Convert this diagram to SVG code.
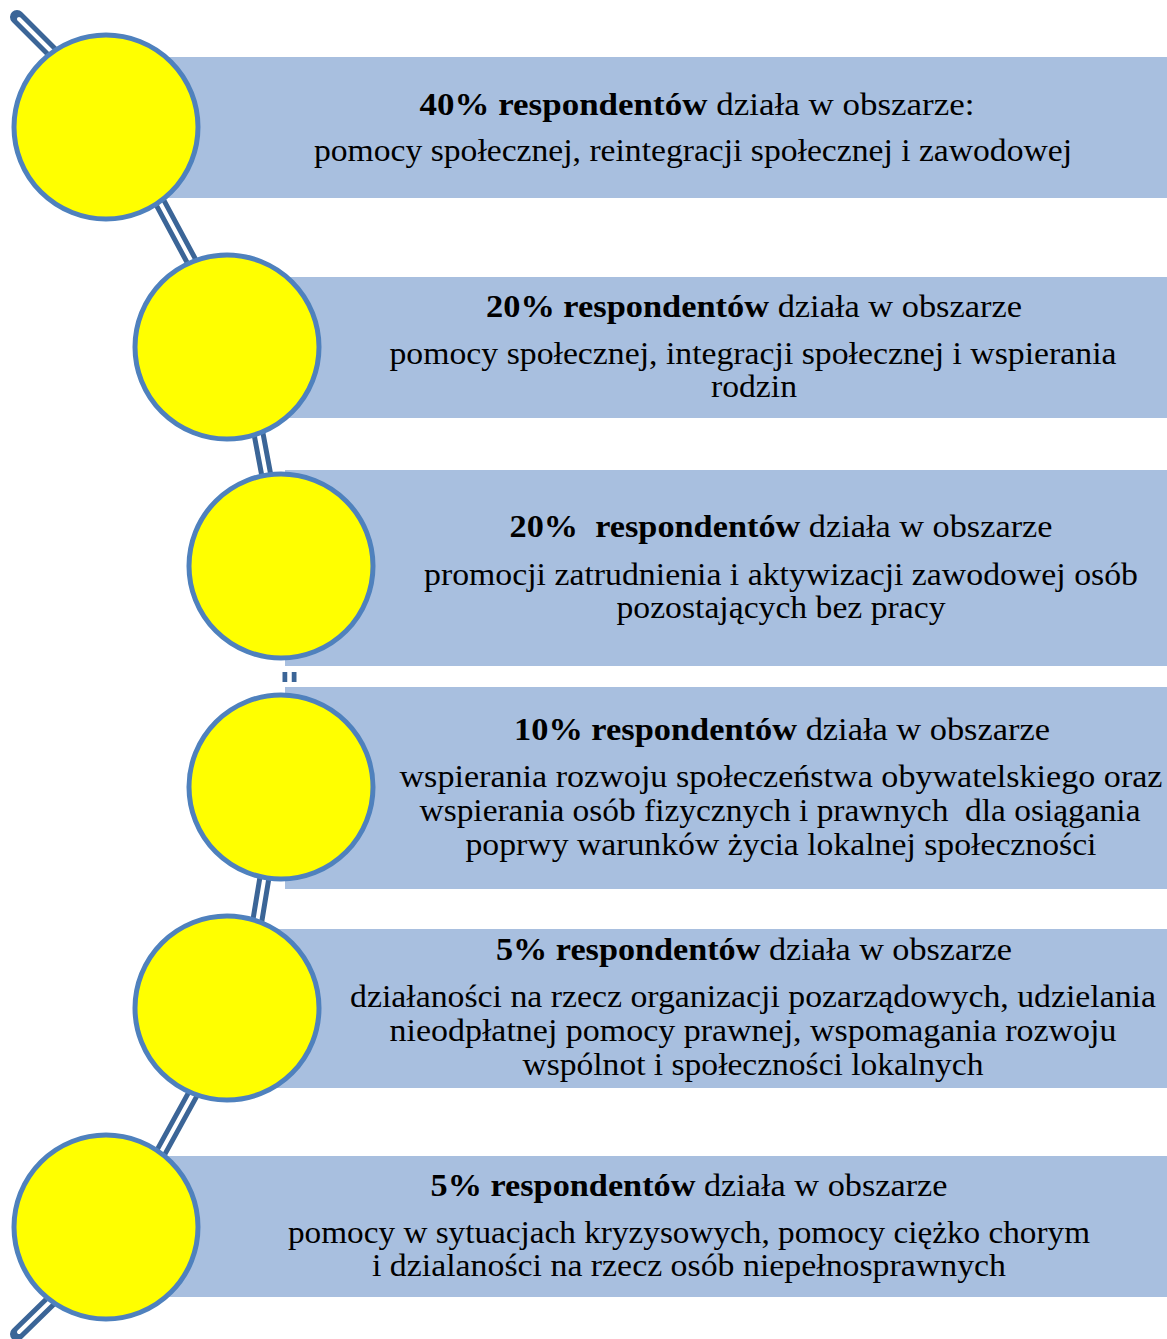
<svg xmlns="http://www.w3.org/2000/svg" width="1167" height="1339" viewBox="0 0 1167 1339">
<style>
.bg{fill:#ffffff}
.box{fill:#A8BFDF}
.dot{fill:#FFFF00;stroke:#4F81BD;stroke-width:5}
.co{fill:none;stroke:#3B6597;stroke-width:14;stroke-linecap:round}
.ci{fill:none;stroke:#ffffff;stroke-width:4;stroke-linecap:round}
.cob{fill:none;stroke:#3B6597;stroke-width:14;stroke-linecap:butt}
.cib{fill:none;stroke:#ffffff;stroke-width:4.5;stroke-linecap:butt}
text{font-family:"Liberation Serif","DejaVu Serif",serif;font-size:31px;fill:#000;text-anchor:middle}
.b{font-weight:bold}
</style>
<rect class="bg" x="0" y="0" width="1167" height="1339"/>
<g id="connectors">
  <path class="co" d="M17,17 L75,75"/>
  <path class="ci" d="M19,19 L75,75"/>
  <path class="co" d="M150,184 L200,277"/>
  <path class="ci" d="M150,184 L200,277"/>
  <path class="co" d="M255,415 L270,495"/>
  <path class="ci" d="M255,415 L270,495"/>
  <path class="cob" d="M289.5,672 L289.5,682"/>
  <path class="cib" d="M289.5,672 L289.5,682"/>
  <path class="co" d="M267,862 L255,935"/>
  <path class="ci" d="M267,862 L255,935"/>
  <path class="co" d="M205,1072 L150,1172"/>
  <path class="ci" d="M205,1072 L150,1172"/>
  <path class="co" d="M60,1292 L17,1334"/>
  <path class="ci" d="M60,1292 L19,1332"/>
</g>
<g id="node1">
  <rect class="box" x="106" y="57" width="1061" height="141"/>
  <circle class="dot" cx="106" cy="127" r="92"/>
  <text x="697" y="115" textLength="555" lengthAdjust="spacingAndGlyphs"><tspan class="b">40% respondentów</tspan> działa w obszarze:</text>
  <text x="693" y="161" textLength="758" lengthAdjust="spacingAndGlyphs">pomocy społecznej, reintegracji społecznej i zawodowej</text>
</g>
<g id="node2">
  <rect class="box" x="227" y="277" width="940" height="141"/>
  <circle class="dot" cx="227" cy="347" r="92"/>
  <text x="754" y="317" textLength="536" lengthAdjust="spacingAndGlyphs"><tspan class="b">20% respondentów</tspan> działa w obszarze</text>
  <text x="753" y="364" textLength="727" lengthAdjust="spacingAndGlyphs">pomocy społecznej, integracji społecznej i wspierania</text>
  <text x="754" y="397" textLength="86" lengthAdjust="spacingAndGlyphs">rodzin</text>
</g>
<g id="node3">
  <rect class="box" x="285" y="470" width="882" height="196"/>
  <circle class="dot" cx="281" cy="566" r="92"/>
  <text x="781" y="537" textLength="543" lengthAdjust="spacingAndGlyphs" xml:space="preserve"><tspan class="b">20%  respondentów</tspan> działa w obszarze</text>
  <text x="781" y="585" textLength="714" lengthAdjust="spacingAndGlyphs">promocji zatrudnienia i aktywizacji zawodowej osób</text>
  <text x="781" y="618" textLength="329" lengthAdjust="spacingAndGlyphs">pozostających bez pracy</text>
</g>
<g id="node4">
  <rect class="box" x="285" y="687" width="882" height="202"/>
  <circle class="dot" cx="281" cy="787" r="92"/>
  <text x="782" y="740" textLength="536" lengthAdjust="spacingAndGlyphs"><tspan class="b">10% respondentów</tspan> działa w obszarze</text>
  <text x="781" y="787" textLength="763" lengthAdjust="spacingAndGlyphs">wspierania rozwoju społeczeństwa obywatelskiego oraz</text>
  <text x="780" y="821" textLength="721" lengthAdjust="spacingAndGlyphs" xml:space="preserve">wspierania osób fizycznych i prawnych  dla osiągania</text>
  <text x="781" y="855" textLength="631" lengthAdjust="spacingAndGlyphs">poprwy warunków życia lokalnej społeczności</text>
</g>
<g id="node5">
  <rect class="box" x="227" y="929" width="940" height="159"/>
  <circle class="dot" cx="227" cy="1008" r="92"/>
  <text x="754" y="960" textLength="516" lengthAdjust="spacingAndGlyphs"><tspan class="b">5% respondentów</tspan> działa w obszarze</text>
  <text x="753" y="1007" textLength="806" lengthAdjust="spacingAndGlyphs">działaności na rzecz organizacji pozarządowych, udzielania</text>
  <text x="753" y="1041" textLength="727" lengthAdjust="spacingAndGlyphs">nieodpłatnej pomocy prawnej, wspomagania rozwoju</text>
  <text x="753" y="1075" textLength="461" lengthAdjust="spacingAndGlyphs">wspólnot i społeczności lokalnych</text>
</g>
<g id="node6">
  <rect class="box" x="106" y="1156" width="1061" height="141"/>
  <circle class="dot" cx="106" cy="1227" r="92"/>
  <text x="689" y="1196" textLength="517" lengthAdjust="spacingAndGlyphs"><tspan class="b">5% respondentów</tspan> działa w obszarze</text>
  <text x="689" y="1243" textLength="802" lengthAdjust="spacingAndGlyphs">pomocy w sytuacjach kryzysowych, pomocy ciężko chorym</text>
  <text x="689" y="1276" textLength="634" lengthAdjust="spacingAndGlyphs">i dzialaności na rzecz osób niepełnosprawnych</text>
</g>
</svg>
